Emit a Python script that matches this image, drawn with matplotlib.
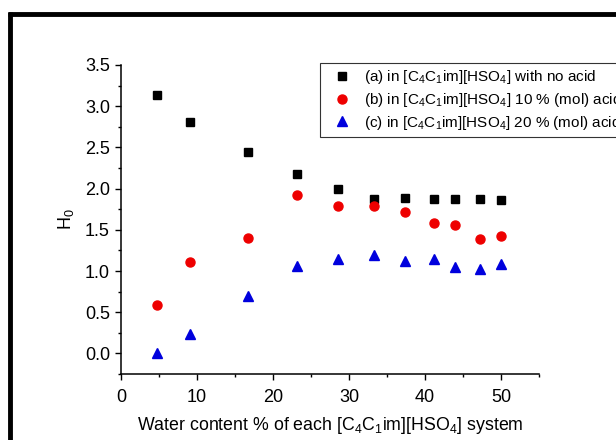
import matplotlib
matplotlib.use("Agg")
import matplotlib.pyplot as plt
from matplotlib.lines import Line2D
from matplotlib.ticker import MultipleLocator, FormatStrFormatter

plt.rcParams['font.family'] = ['Liberation Sans', 'DejaVu Sans']
plt.rcParams['mathtext.fontset'] = 'custom'
plt.rcParams['mathtext.rm'] = 'Liberation Sans'
plt.rcParams['mathtext.it'] = 'Liberation Sans:italic'
plt.rcParams['mathtext.bf'] = 'Liberation Sans:bold'

water = [4.8, 9.1, 16.7, 23.1, 28.5, 33.3, 37.4, 41.2, 44.0, 47.3, 50.0]
h0_no_acid = [3.14, 2.81, 2.44, 2.18, 2.00, 1.87, 1.89, 1.87, 1.87, 1.87, 1.86]
h0_10_acid = [0.59, 1.11, 1.40, 1.92, 1.79, 1.79, 1.72, 1.58, 1.56, 1.39, 1.43]
h0_20_acid = [0.00, 0.23, 0.70, 1.06, 1.14, 1.19, 1.12, 1.15, 1.05, 1.03, 1.08]

labels = [r'(a) in [C$_4$C$_1$im][HSO$_4$] with no acid',
          r'(b) in [C$_4$C$_1$im][HSO$_4$] 10 % (mol) acid',
          r'(c) in [C$_4$C$_1$im][HSO$_4$] 20 % (mol) acid']

fig = plt.figure(figsize=(6.16, 4.40), dpi=100)
ax = fig.add_axes([121/616, 1-374/440, 418/616, 309/440])

ax.plot(water, h0_no_acid, 's', color='black', markersize=5.5, label=labels[0], linestyle='none')
ax.plot(water, h0_10_acid, 'o', color='#ee0000', markersize=6.5, label=labels[1], linestyle='none')
ax.plot(water, h0_20_acid, '^', color='#0000dd', markersize=7, label=labels[2], linestyle='none')

ax.set_xlim(0, 55)
ax.set_ylim(-0.25, 3.5)
ax.xaxis.set_major_locator(MultipleLocator(10))
ax.xaxis.set_minor_locator(MultipleLocator(5))
ax.yaxis.set_major_locator(MultipleLocator(0.5))
ax.yaxis.set_minor_locator(MultipleLocator(0.25))
ax.yaxis.set_major_formatter(FormatStrFormatter('%.1f'))
ax.spines['top'].set_visible(False)
ax.spines['right'].set_visible(False)
for s in ['left', 'bottom']:
    ax.spines[s].set_linewidth(1.1)
ax.tick_params(which='major', direction='out', length=4.5, width=1.0, labelsize=13, colors='black')
ax.tick_params(axis='x', which='major', pad=6)
ax.tick_params(which='minor', direction='out', length=2.5, width=1.0)

ax.set_xlabel(r'Water content % of each [C$_4$C$_1$im][HSO$_4$] system', fontsize=12.8, labelpad=7)
ax.set_ylabel(r'H$_0$', fontsize=13, labelpad=6)

leg = fig.legend(loc='upper left', bbox_to_anchor=(320/616, 1-63/440), bbox_transform=fig.transFigure,
                 borderaxespad=0, fancybox=False, edgecolor='#333333', fontsize=11,
                 handlelength=2.2, handletextpad=0.3, borderpad=0.35, labelspacing=0.3,
                 framealpha=1, numpoints=1)
leg.get_frame().set_linewidth(0.8)

# outer black frame (partially visible)
fig.add_artist(Line2D([8/616, 1.0], [1-14/440, 1-14/440], transform=fig.transFigure,
                      color='black', linewidth=3.5, solid_capstyle='butt'))
fig.add_artist(Line2D([10/616, 10/616], [1-12/440, 0.0], transform=fig.transFigure,
                      color='black', linewidth=3.5, solid_capstyle='butt'))

fig.savefig('out.png', dpi=100)
